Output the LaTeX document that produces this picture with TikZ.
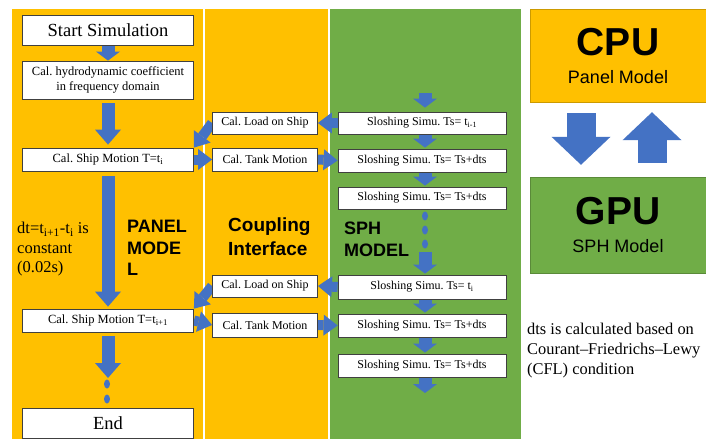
\documentclass[tikz,border=0pt]{standalone}
\usepackage{fontspec}
\setmainfont{Liberation Serif}
\setsansfont{Liberation Sans}
\usetikzlibrary{arrows.meta,backgrounds}
\frenchspacing

\definecolor{panelorange}{HTML}{FFC000}
\definecolor{sphgreen}{HTML}{70AD47}
\definecolor{flowblue}{HTML}{4472C4}

\tikzstyle{stage}=[rectangle, draw=black!75, line width=0.8pt,
                   fill=white, inner sep=0pt, align=center,
                   font=\fontsize{12}{14}\selectfont]
\tikzstyle{model}=[rectangle, line width=0.4pt, inner sep=0pt, align=center,
                   minimum width=176pt, font=\fontsize{18}{28}\selectfont\sffamily]
\tikzstyle{flow}=[draw=flowblue, line width=13pt,
                  -{Triangle[length=15pt 0 0, width=26pt 0 0, line width=0pt]}]
\tikzstyle{shortflow}=[draw=flowblue, line width=13pt,
                  -{Triangle[length=9pt 0 0, width=24pt 0 0, line width=0pt]}]
\tikzstyle{crossflow}=[draw=flowblue, line width=10pt,
                  -{Triangle[length=14pt 0 0, width=21pt 0 0, line width=0pt]}]
\tikzstyle{bigflow}=[draw=flowblue, line width=29pt,
                  -{Triangle[length=28pt 0 0, width=59pt 0 0, line width=0pt]}]
\tikzstyle{bigtitle}=[inner sep=0pt, anchor=north west, align=left,
                      font=\fontsize{18}{21.5}\selectfont\sffamily\bfseries]

\begin{document}
\begin{tikzpicture}[x=1pt, y=-1pt]

  \useasboundingbox (0, 0) rectangle (706, 439);

  % panel model column
  \node (Start) at (108, 30) [stage, minimum width=171pt, minimum height=30pt,
        font=\fontsize{18.5}{20}\selectfont] {Start Simulation};
  \node (Hydro) at (108, 80) [stage, minimum width=171pt, minimum height=38pt,
        font=\fontsize{12.5}{14.5}\selectfont]
        {Cal. hydrodynamic coefficient\\in frequency domain};
  \node (MotionA) at (108, 159.5) [stage, minimum width=171pt, minimum height=23pt,
        font=\fontsize{12.5}{14}\selectfont] {Cal. Ship Motion T=t\textsubscript{i}};
  \node (MotionB) at (108, 320.5) [stage, minimum width=171pt, minimum height=23pt,
        font=\fontsize{12.5}{14}\selectfont] {Cal. Ship Motion T=t\textsubscript{i+1}};
  \node (End) at (108, 423.5) [stage, minimum width=171pt, minimum height=30pt,
        font=\fontsize{18.5}{20}\selectfont] {End};

  % coupling interface column
  \node (LoadA) at (265, 123) [stage, minimum width=105pt, minimum height=22pt] {Cal. Load on Ship};
  \node (TankA) at (265, 159.5) [stage, minimum width=105pt, minimum height=23pt] {Cal. Tank Motion};
  \node (LoadB) at (265, 286) [stage, minimum width=105pt, minimum height=22pt] {Cal. Load on Ship};
  \node (TankB) at (265, 325) [stage, minimum width=105pt, minimum height=24pt] {Cal. Tank Motion};

  % sph model column
  \node (SloshA) at (422, 123) [stage, minimum width=168pt, minimum height=22pt]
        {Sloshing Simu. Ts= t\textsubscript{i-1}};
  \node (SloshB) at (422, 160.5) [stage, minimum width=168pt, minimum height=23pt]
        {Sloshing Simu. Ts= Ts+dts};
  \node (SloshC) at (422, 198) [stage, minimum width=168pt, minimum height=22pt]
        {Sloshing Simu. Ts= Ts+dts};
  \node (SloshD) at (422, 287) [stage, minimum width=168pt, minimum height=24pt]
        {Sloshing Simu. Ts= t\textsubscript{i}};
  \node (SloshE) at (422, 325.5) [stage, minimum width=168pt, minimum height=23pt]
        {Sloshing Simu. Ts= Ts+dts};
  \node (SloshF) at (422, 365.5) [stage, minimum width=168pt, minimum height=23pt]
        {Sloshing Simu. Ts= Ts+dts};

  \coordinate (PanelOut) at (108, 378);
  \coordinate (SphIn) at (425, 93);
  \coordinate (SphResume) at (425, 252);
  \coordinate (SphOut) at (425, 393);

  % labels
  \node (DtNote) at (17, 222) [anchor=north west, inner sep=0pt, align=left,
        font=\fontsize{16.5}{19.5}\selectfont]
        {dt=t\textsubscript{i+1}-t\textsubscript{i} is\\constant\\(0.02s)};
  \node (PanelTitle) at (127, 220) [bigtitle] {PANEL\\MODE\\L};
  \node (CouplingTitle) at (228, 218) [bigtitle, font=\fontsize{19}{24}\selectfont\sffamily\bfseries]
        {Coupling\\Interface};
  \node (SphTitle) at (344, 222) [bigtitle] {SPH\\MODEL};

  %%%%%%%%%%%%%%%%%%%%%%%%%%%%%%
  % hardware legend
  \node (CPU) at (618, 55.5) [model, minimum height=93pt, fill=panelorange,
        draw=panelorange!80!black]
        {{\fontsize{39}{39}\selectfont\bfseries CPU}\\Panel Model};
  \node (GPU) at (618, 225) [model, minimum height=96pt, fill=sphgreen,
        draw=sphgreen!80!black]
        {{\fontsize{39}{39}\selectfont\bfseries GPU}\\SPH Model};
  \node (DtsNote) at (527, 323) [anchor=north west, inner sep=0pt, align=left,
        font=\fontsize{16.4}{20}\selectfont]
        {dts is calculated based on\\Courant--Friedrichs--Lewy\\(CFL) condition};

  \begin{scope}[on background layer]
    \fill[white] (0, 0) rectangle (706, 439);
    \fill[panelorange] (12, 9) rectangle (203, 439);
    \fill[panelorange] (205, 9) rectangle (328, 439);
    \fill[sphgreen] (330, 9) rectangle (521, 439);

    % panel flow
    \draw [shortflow] (Start) -- (Hydro);
    \draw [flow, shorten <=4pt, shorten >=3pt] (Hydro) -- (MotionA);
    \draw [flow, shorten <=5pt, shorten >=2pt] (MotionA) -- (MotionB);
    \draw [flow, shorten <=4pt] (MotionB) -- (PanelOut);
    \foreach \y in {384, 399}
      \fill[flowblue] (107, \y) ellipse [x radius=3pt, y radius=4.5pt];

    % sph flow
    \draw [shortflow, shorten >=4pt] (SphIn) -- ([xshift=3pt]SloshA.north);
    \draw [shortflow, shorten >=1pt] ([xshift=3pt]SloshA.south) -- ([xshift=3pt]SloshB.north);
    \draw [shortflow, shorten >=1pt] ([xshift=3pt]SloshB.south) -- ([xshift=3pt]SloshC.north);
    \foreach \y in {216, 230, 244}
      \fill[flowblue] (425, \y) ellipse [x radius=3pt, y radius=4.5pt];
    \draw [shortflow, shorten >=1pt] (SphResume) -- ([xshift=3pt]SloshD.north);
    \draw [shortflow, shorten >=1pt] ([xshift=3pt]SloshD.south) -- ([xshift=3pt]SloshE.north);
    \draw [shortflow, shorten >=1pt] ([xshift=3pt]SloshE.south) -- ([xshift=3pt]SloshF.north);
    \draw [shortflow] ([xshift=3pt]SloshF.south) -- (SphOut);

    % coupling exchange
    \draw [crossflow] (SloshA.west) -- (LoadA.east);
    \draw [crossflow] (LoadA.west) -- (MotionA.north east);
    \draw [crossflow] (MotionA.east) -- (TankA.west);
    \draw [crossflow] (TankA.east) -- (SloshB.west);
    \draw [crossflow] (SloshD.west) -- (LoadB.east);
    \draw [crossflow] (LoadB.west) -- (MotionB.north east);
    \draw [crossflow] (MotionB.east) -- (TankB.west);
    \draw [crossflow] (TankB.east) -- (SloshE.west);

    % cpu <-> gpu
    \draw [bigflow, shorten <=11pt, shorten >=12pt] ([xshift=-37pt]CPU.south) -- ([xshift=-37pt]GPU.north);
    \draw [bigflow, shorten <=14pt, shorten >=10pt] ([xshift=34pt]GPU.north) -- ([xshift=34pt]CPU.south);
  \end{scope}

\end{tikzpicture}
\end{document}
